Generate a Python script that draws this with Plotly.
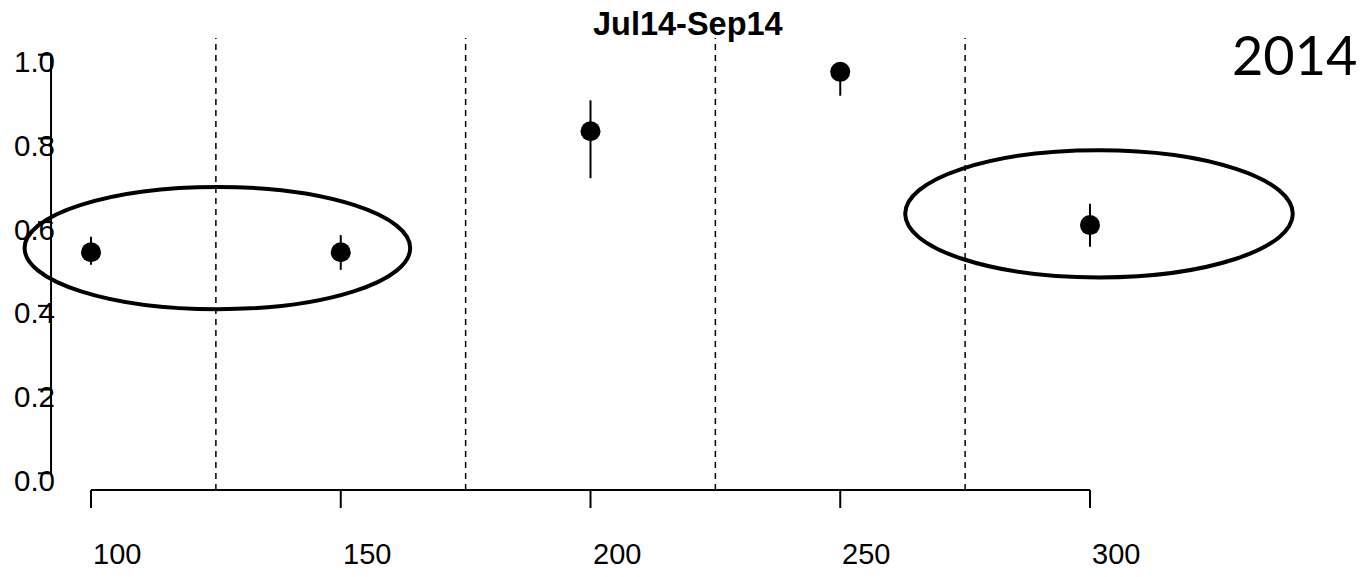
import plotly.graph_objects as go

# ---- data ----
x_vals = [100, 150, 200, 250, 300]
y_vals = [0.528, 0.528, 0.817, 0.959, 0.593]
y_upper = [0.565, 0.569, 0.891, 0.975, 0.644]
y_lower = [0.498, 0.486, 0.705, 0.902, 0.541]
x_ticks = [100, 150, 200, 250, 300]
x_tick_labels = ["100", "150", "200", "250", "300"]
y_ticks = [0.0, 0.2, 0.4, 0.6, 0.8, 1.0]
y_tick_labels = ["0.0", "0.2", "0.4", "0.6", "0.8", "1.0"]
vlines = [125, 175, 225, 275]
# ellipses: (center x, center y, half width, half height)
ellipses = [(125.3, 0.538, 38.6, 0.146), (301.8, 0.620, 38.8, 0.152)]
title_text = "Jul14-Sep14"
year_text = "2014"

W, H = 1360, 577
# plotting region in data units (R-style 4% expansion)
XLO, XHI = 92, 308
YLO, YHI = -0.04, 1.04
# pixel scale of the data axes
PX_PER_X = 4.995
PX_PER_Y = 418.6
FONT = "Liberation Sans, Arial, sans-serif"

def dx(px):
    return px / PX_PER_X

def dy(px):
    return px / PX_PER_Y

x_range = [100 - dx(91), 100 + dx(W - 91)]
y_range = [-dy(H - 473.3), dy(473.3)]

fig = go.Figure()
fig.add_trace(go.Scatter(
    x=x_vals, y=y_vals, mode="markers",
    marker=dict(size=20, color="black", symbol="circle"),
    error_y=dict(type="data", symmetric=False,
                 array=[u - v for u, v in zip(y_upper, y_vals)],
                 arrayminus=[v - l for v, l in zip(y_vals, y_lower)],
                 width=0, thickness=2, color="black"),
    showlegend=False, cliponaxis=False,
))

shapes = []
for v in vlines:
    shapes.append(dict(type="line", xref="x", yref="y", x0=v, x1=v, y0=YLO, y1=YHI,
                       line=dict(color="black", width=1.5, dash="6px,5px")))
for cx, cy, ax, by in ellipses:
    shapes.append(dict(type="circle", xref="x", yref="y", x0=cx - ax, x1=cx + ax,
                       y0=cy - by, y1=cy + by, line=dict(color="black", width=4)))
# x axis
shapes.append(dict(type="line", xref="x", yref="y", x0=x_ticks[0], x1=x_ticks[-1],
                   y0=YLO, y1=YLO, line=dict(color="black", width=2)))
for t in x_ticks:
    shapes.append(dict(type="line", xref="x", yref="y", x0=t, x1=t,
                       y0=YLO, y1=YLO - dy(18), line=dict(color="black", width=2)))
# y axis
shapes.append(dict(type="line", xref="x", yref="y", x0=XLO, x1=XLO,
                   y0=y_ticks[0], y1=y_ticks[-1], line=dict(color="black", width=2)))
for t in y_ticks:
    shapes.append(dict(type="line", xref="x", yref="y", x0=XLO - dx(13), x1=XLO,
                       y0=t, y1=t, line=dict(color="black", width=2)))

annotations = []
for t, lab in zip(x_ticks, x_tick_labels):
    annotations.append(dict(x=t, y=YLO, xref="x", yref="y", text=lab, showarrow=False,
                            xanchor="left", yanchor="middle", yshift=-64,
                            font=dict(family=FONT, size=29, color="black")))
for t, lab in zip(y_ticks, y_tick_labels):
    annotations.append(dict(x=XLO - dx(39), y=t, xref="x", yref="y", text=lab,
                            showarrow=False, xanchor="left", yanchor="middle", yshift=-7,
                            font=dict(family=FONT, size=29.5, color="black")))
annotations.append(dict(x=(XLO + XHI) / 2, y=YHI, xref="x", yref="y",
                        text="<b>" + title_text + "</b>", showarrow=False,
                        xanchor="left", yanchor="middle", yshift=14,
                        font=dict(family=FONT, size=32.5, color="black")))
annotations.append(dict(x=100 + dx(1230 - 91), y=1.0, xref="x", yref="y",
                        text=year_text, showarrow=False,
                        xanchor="left", yanchor="middle", yshift=0,
                        font=dict(family="Lato, Open Sans, sans-serif", size=54, color="black")))

fig.update_layout(
    width=W, height=H, autosize=False,
    margin=dict(l=0, r=0, t=0, b=0, pad=0),
    plot_bgcolor="white", paper_bgcolor="white",
    xaxis=dict(range=x_range, visible=False, fixedrange=True),
    yaxis=dict(range=y_range, visible=False, fixedrange=True),
    shapes=shapes, annotations=annotations,
)

fig.write_html("out.html", config={"displayModeBar": False})
